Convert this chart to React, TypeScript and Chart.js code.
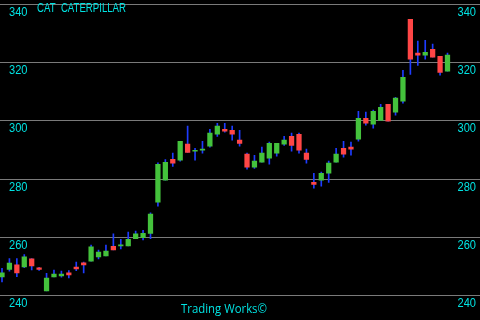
import React, { useEffect, useRef } from 'react';
import { Chart, registerables } from 'chart.js';

Chart.register(...registerables);

const TITLE = 'CAT  CATERPILLAR';
const FOOTER = 'Trading Works©';
const Y_TICKS = [240, 260, 280, 300, 320, 340];

const OPEN = [
  246.4, 249.0, 250.5, 249.8, 252.6, 249.5, 241.6, 246.4, 246.7, 247.8,
  249.8, 251.2, 251.8, 253.3, 253.6, 256.9, 257.0, 257.0, 259.5, 259.9,
  261.3, 272.1, 279.6, 286.8, 286.5, 292.0, 289.6, 289.9, 291.3, 295.4,
  297.1, 296.8, 293.4, 288.6, 284.1, 285.8, 287.2, 288.9, 292.0, 294.7,
  295.4, 288.9, 278.9, 279.6, 282.0, 285.8, 290.6, 291.0, 293.7, 300.9,
  298.9, 300.2, 305.7, 303.0, 306.8, 334.9, 323.3, 322.6, 324.6, 322.2,
  317.1,
];
const HIGH = [
  249.3, 252.7, 252.7, 254.1, 252.7, 249.7, 247.6, 248.7, 248.4, 248.6,
  251.5, 251.5, 257.3, 255.6, 257.3, 261.2, 259.3, 261.8, 262.1, 262.4,
  268.4, 285.6, 286.7, 288.9, 293.0, 298.2, 290.6, 293.0, 297.1, 299.2,
  299.2, 298.2, 296.8, 288.9, 288.2, 291.0, 292.7, 292.3, 294.7, 295.8,
  295.8, 290.3, 282.0, 282.4, 286.2, 290.6, 293.0, 292.7, 303.3, 303.0,
  303.7, 305.7, 305.7, 308.1, 317.4, 334.9, 327.4, 327.7, 326.4, 322.2,
  323.3,
];
const LOW = [
  244.7, 248.4, 246.5, 249.6, 248.8, 248.6, 241.6, 246.4, 246.3, 246.0,
  248.5, 247.8, 251.8, 252.6, 253.6, 255.7, 256.0, 257.0, 259.5, 259.1,
  259.5, 270.7, 279.6, 284.4, 286.2, 289.2, 286.5, 288.9, 291.0, 294.7,
  296.1, 293.4, 291.3, 283.4, 283.7, 285.8, 285.1, 287.9, 291.6, 289.6,
  288.9, 285.5, 276.9, 277.6, 278.9, 285.8, 287.5, 288.2, 293.0, 298.5,
  297.5, 300.2, 299.9, 302.0, 306.1, 316.0, 319.1, 321.2, 321.9, 315.7,
  317.1,
];
const CLOSE = [
  247.8, 251.1, 247.8, 253.3, 250.2, 249.0, 246.0, 247.4, 247.4, 247.1,
  249.1, 250.5, 256.7, 254.9, 255.3, 255.7, 257.4, 259.3, 261.2, 261.4,
  268.0, 285.1, 285.8, 285.5, 293.0, 289.2, 289.9, 290.3, 295.8, 298.2,
  296.5, 295.4, 292.3, 284.1, 286.2, 288.9, 292.3, 292.3, 293.4, 291.6,
  289.9, 286.8, 278.2, 282.0, 285.5, 288.6, 288.6, 290.3, 300.9, 299.2,
  303.3, 304.7, 299.9, 307.8, 315.0, 321.2, 322.6, 323.6, 321.9, 316.7,
  322.6,
];

const UP = '#44c23c';
const DOWN = '#ff4646';
const WICK = '#1e3cff';
const TEXT = '#00e2e2';
const GRID = '#7a7a7a';

const decor = {
  id: 'decor',
  beforeDraw(chart: any) {
    const { ctx, width, height } = chart;
    ctx.save();
    ctx.fillStyle = '#000';
    ctx.fillRect(0, 0, width, height);
    ctx.restore();
  },
  beforeDatasetsDraw(chart: any) {
    const { ctx, chartArea } = chart;
    const y = chart.scales.y;
    ctx.save();
    ctx.strokeStyle = GRID;
    ctx.lineWidth = 1;
    Y_TICKS.forEach((t) => {
      const py = Math.floor(y.getPixelForValue(t)) + 0.5;
      ctx.beginPath();
      ctx.moveTo(0, py);
      ctx.lineTo(chart.width, py);
      ctx.stroke();
    });
    ctx.restore();
  },
  afterDraw(chart: any) {
    const { ctx } = chart;
    const y = chart.scales.y;
    ctx.save();
    ctx.fillStyle = TEXT;
    ctx.font = '13px "Liberation Sans"';
    ctx.textBaseline = 'alphabetic';
    Y_TICKS.forEach((t) => {
      const py = Math.floor(y.getPixelForValue(t)) + 0.5 + 11;
      ctx.textAlign = 'left';
      ctx.fillText(String(t), 9, py, 18.5);
      ctx.textAlign = 'right';
      ctx.fillText(String(t), 476, py, 18.5);
    });
    ctx.textAlign = 'left';
    ctx.font = '12px "Liberation Sans"';
    ctx.fillText(TITLE, 37, 11.5, 89);
    ctx.font = '12px "Open Sans"';
    ctx.fillText(FOOTER, 181, 312.5, 86);
    ctx.restore();
  },
};

export default function App() {
  const ref = useRef<HTMLCanvasElement>(null);
  useEffect(() => {
    document.body.style.margin = '0';
    document.body.style.background = '#000';
    const bodies = OPEN.map((o, i) => ({ x: i, y: [Math.min(o, CLOSE[i]), Math.max(o, CLOSE[i])] }));
    const wicks = LOW.map((l, i) => ({ x: i, y: [l, HIGH[i]] }));
    const colors = OPEN.map((o, i) => (CLOSE[i] >= o ? UP : DOWN));
    const chart = new Chart(ref.current as HTMLCanvasElement, {
      type: 'bar',
      data: {
        datasets: [
          {
            data: bodies as any,
            backgroundColor: colors,
            barThickness: 4.6,
            grouped: false,
            order: 0,
            borderWidth: 0,
          },
          {
            data: wicks as any,
            backgroundColor: WICK,
            barThickness: 1,
            grouped: false,
            order: 1,
            borderWidth: 0,
          },
        ],
      },
      options: {
        animation: false,
        responsive: false,
        devicePixelRatio: 1,
        layout: { padding: { top: 4.5, bottom: 24.5, left: 0, right: 0 } },
        plugins: { legend: { display: false }, tooltip: { enabled: false } },
        scales: {
          x: { type: 'linear', display: false, min: -0.2694, max: 64.377, offset: false },
          y: { type: 'linear', display: false, min: 240, max: 340 },
        },
      },
      plugins: [decor],
    });
    return () => chart.destroy();
  }, []);
  return (
    <div style={{ width: 480, height: 320, background: '#000' }}>
      <canvas ref={ref} width={480} height={320} style={{ display: 'block' }} />
    </div>
  );
}
